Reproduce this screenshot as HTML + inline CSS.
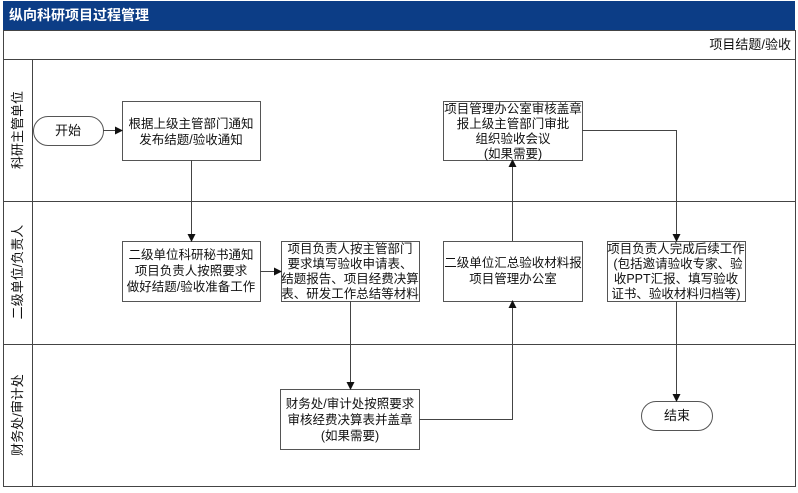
<!DOCTYPE html>
<html><head><meta charset="utf-8"><style>
body{margin:0;background:#fff;}
svg text{font-family:"Liberation Sans","Noto Sans CJK SC",sans-serif;font-size:12.5px;fill:#111;}
</style></head><body>
<svg width="798" height="488" viewBox="0 0 798 488" xmlns="http://www.w3.org/2000/svg">
<defs><marker id="a" markerWidth="8" markerHeight="8" refX="7" refY="4" orient="auto" markerUnits="userSpaceOnUse"><path d="M0,0 L8,4 L0,8 z" fill="#111"/></marker></defs>
<rect x="0" y="0" width="798" height="488" fill="#fff"/>
<rect x="3" y="1" width="792" height="29" fill="#0c3d86"/>
<text x="9" y="20" style="fill:#fff;font-size:14px;font-weight:bold">纵向科研项目过程管理</text>
<g fill="none" stroke="#444" stroke-width="1">
<rect x="3.5" y="30.5" width="792" height="456"/>
<line x1="3" y1="59.5" x2="796" y2="59.5"/>
<line x1="32.5" y1="59" x2="32.5" y2="487"/>
<line x1="3" y1="201.5" x2="796" y2="201.5"/>
<line x1="3" y1="344.5" x2="796" y2="344.5"/>
</g>
<text x="791" y="49" text-anchor="end" style="font-size:13px">项目结题/验收</text>
<text transform="translate(22,130) rotate(-90)" text-anchor="middle" style="font-size:13px">科研主管单位</text>
<text transform="translate(22,272) rotate(-90)" text-anchor="middle" style="font-size:13px">二级单位/负责人</text>
<text transform="translate(22,415) rotate(-90)" text-anchor="middle" style="font-size:13px">财务处/审计处</text>
<g fill="#fff" stroke="#555" stroke-width="1">
<rect x="33.5" y="116.5" width="70" height="29" rx="14.5"/>
<rect x="122.5" y="101.5" width="138" height="59"/>
<rect x="122.5" y="241.5" width="138" height="60"/>
<rect x="281.5" y="241.5" width="138" height="60"/>
<rect x="280.5" y="389.5" width="139" height="60"/>
<rect x="443.5" y="241.5" width="139" height="60"/>
<rect x="443.5" y="101.5" width="139" height="59"/>
<rect x="607.5" y="241.5" width="138" height="60"/>
<rect x="641.5" y="401.5" width="71" height="29" rx="14.5"/>
</g>
<g fill="none" stroke="#444" stroke-width="1" marker-end="url(#a)">
<line x1="103" y1="130.5" x2="122" y2="130.5"/>
<line x1="191.5" y1="160" x2="191.5" y2="241"/>
<line x1="260" y1="271.5" x2="281" y2="271.5"/>
<line x1="350.5" y1="301" x2="350.5" y2="389"/>
<polyline points="419,419.5 512.5,419.5 512.5,301"/>
<line x1="512.5" y1="241" x2="512.5" y2="160"/>
<polyline points="582,130.5 676.5,130.5 676.5,241"/>
<line x1="676.5" y1="301" x2="676.5" y2="401"/>
</g>
<g text-anchor="middle">
<text x="68" y="135" style="font-size:13px">开始</text>
<text x="191" y="128">根据上级主管部门通知</text>
<text x="191" y="144">发布结题/验收通知</text>
<text x="191" y="259">二级单位科研秘书通知</text>
<text x="191" y="275">项目负责人按照要求</text>
<text x="191" y="291">做好结题/验收准备工作</text>
<text x="350" y="253">项目负责人按主管部门</text>
<text x="350" y="268">要求填写验收申请表、</text>
<text x="350" y="283">结题报告、项目经费决算</text>
<text x="350" y="298">表、研发工作总结等材料</text>
<text x="350" y="408">财务处/审计处按照要求</text>
<text x="350" y="424">审核经费决算表并盖章</text>
<text x="350" y="440">(如果需要)</text>
<text x="513" y="267">二级单位汇总验收材料报</text>
<text x="513" y="283">项目管理办公室</text>
<text x="513" y="113">项目管理办公室审核盖章</text>
<text x="513" y="128">报上级主管部门审批</text>
<text x="513" y="143">组织验收会议</text>
<text x="513" y="158">(如果需要)</text>
<text x="676" y="253">项目负责人完成后续工作</text>
<text x="678" y="268">(包括邀请验收专家、验</text>
<text x="676" y="283">收PPT汇报、填写验收</text>
<text x="676" y="298">证书、验收材料归档等)</text>
<text x="677" y="420" style="font-size:13px">结束</text>
</g>
</svg>
</body></html>
